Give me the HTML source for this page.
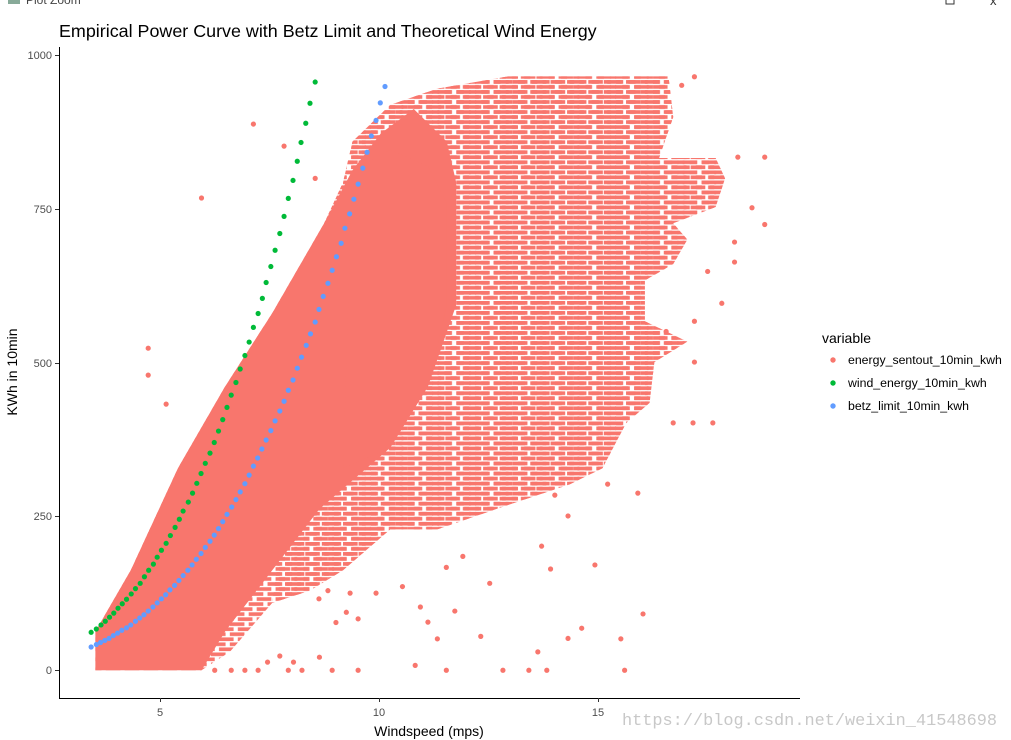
<!DOCTYPE html>
<html><head><meta charset="utf-8"><style>
html,body{margin:0;padding:0;background:#fff;}
svg{display:block;font-family:"Liberation Sans",Arial,sans-serif;}
</style></head><body>
<svg width="1011" height="740" viewBox="0 0 1011 740" xmlns="http://www.w3.org/2000/svg">
<defs>
<pattern id="rows" patternUnits="userSpaceOnUse" width="40" height="24.6">
<rect x="0" y="0" width="31" height="9" fill="#F8766D"/>
<rect x="17" y="12.3" width="23" height="9" fill="#F8766D"/>
<rect x="0" y="12.3" width="8" height="9" fill="#F8766D"/>
</pattern>
<pattern id="rows2" patternUnits="userSpaceOnUse" width="26" height="24.6" x="9" y="0">
<rect x="0" y="0" width="15" height="9" fill="#F8766D"/>
<rect x="13" y="12.3" width="13" height="9" fill="#F8766D"/>
</pattern>
</defs>
<rect width="1011" height="740" fill="#fff"/>
<text x="26" y="4" font-size="12" fill="#444">Plot Zoom</text>
<rect x="8" y="-4" width="12" height="8" fill="#8a9" />
<rect x="946" y="-4" width="8" height="8" fill="none" stroke="#333"/>
<text x="990" y="5" font-size="13" fill="#333">x</text>

<text x="59" y="37" font-size="17.9" fill="#000">Empirical Power Curve with Betz Limit and Theoretical Wind Energy</text>

<g transform="translate(60,60) scale(0.4717,0.4082)">
<polygon fill="url(#rows)" points="75,1495 75,1400 150,1250 250,1000 350,800 450,620 500,520 560,400 600,300 620,200 700,110 800,70 950,40 1290,40 1300,140 1270,240 1390,240 1410,290 1390,360 1300,400 1330,440 1300,500 1240,540 1240,640 1330,690 1260,740 1250,840 1200,890 1150,1000 1080,1040 950,1090 800,1150 700,1150 600,1250 530,1300 450,1330 360,1450 300,1495"/>
<polygon fill="url(#rows2)" points="560,400 600,300 620,200 700,110 800,70 950,40 1290,40 1300,140 1270,240 1390,240 1410,290 1390,360 1300,400 1330,440 1300,500 1240,540 1240,640 1330,690 1260,740 1250,840 1200,890 1150,1000 1080,1040 950,1090 800,1150 700,1150 600,1250 530,1300 450,1330"/>
<polygon fill="#F8766D" points="75,1495 75,1400 150,1250 250,1000 350,800 450,620 500,520 560,400 620,270 680,180 750,120 820,200 840,300 840,600 780,800 700,950 600,1050 550,1100 450,1250 350,1400 300,1495"/>
<polygon fill="#F8766D" points="620,270 700,220 780,260 820,350 820,600 780,800 700,950 600,1000"/>
<g fill="#F8766D">
<ellipse cx="410" cy="157" rx="5.5" ry="6.4"/><ellipse cx="300" cy="338" rx="5.5" ry="6.4"/><ellipse cx="187" cy="706" rx="5.5" ry="6.4"/><ellipse cx="187" cy="772" rx="5.5" ry="6.4"/><ellipse cx="225" cy="843" rx="5.5" ry="6.4"/><ellipse cx="475" cy="211" rx="5.5" ry="6.4"/><ellipse cx="541" cy="290" rx="5.5" ry="6.4"/><ellipse cx="1494" cy="238" rx="5.5" ry="6.4"/><ellipse cx="1494" cy="403" rx="5.5" ry="6.4"/><ellipse cx="1467" cy="362" rx="5.5" ry="6.4"/><ellipse cx="1430" cy="446" rx="5.5" ry="6.4"/><ellipse cx="1430" cy="495" rx="5.5" ry="6.4"/><ellipse cx="1403" cy="596" rx="5.5" ry="6.4"/><ellipse cx="1345" cy="41" rx="5.5" ry="6.4"/><ellipse cx="1318" cy="62" rx="5.5" ry="6.4"/><ellipse cx="1021" cy="1191" rx="5.5" ry="6.4"/><ellipse cx="854" cy="1216" rx="5.5" ry="6.4"/><ellipse cx="819" cy="1243" rx="5.5" ry="6.4"/><ellipse cx="911" cy="1282" rx="5.5" ry="6.4"/><ellipse cx="1134" cy="1237" rx="5.5" ry="6.4"/><ellipse cx="1040" cy="1247" rx="5.5" ry="6.4"/><ellipse cx="1236" cy="1357" rx="5.5" ry="6.4"/><ellipse cx="1077" cy="1417" rx="5.5" ry="6.4"/><ellipse cx="1106" cy="1392" rx="5.5" ry="6.4"/><ellipse cx="1189" cy="1418" rx="5.5" ry="6.4"/><ellipse cx="1013" cy="1450" rx="5.5" ry="6.4"/><ellipse cx="892" cy="1412" rx="5.5" ry="6.4"/><ellipse cx="800" cy="1418" rx="5.5" ry="6.4"/><ellipse cx="780" cy="1377" rx="5.5" ry="6.4"/><ellipse cx="764" cy="1340" rx="5.5" ry="6.4"/><ellipse cx="837" cy="1350" rx="5.5" ry="6.4"/><ellipse cx="753" cy="1483" rx="5.5" ry="6.4"/><ellipse cx="819" cy="1495" rx="5.5" ry="6.4"/><ellipse cx="939" cy="1495" rx="5.5" ry="6.4"/><ellipse cx="994" cy="1495" rx="5.5" ry="6.4"/><ellipse cx="1032" cy="1495" rx="5.5" ry="6.4"/><ellipse cx="1197" cy="1495" rx="5.5" ry="6.4"/><ellipse cx="632" cy="1495" rx="5.5" ry="6.4"/><ellipse cx="577" cy="1495" rx="5.5" ry="6.4"/><ellipse cx="550" cy="1463" rx="5.5" ry="6.4"/><ellipse cx="513" cy="1495" rx="5.5" ry="6.4"/><ellipse cx="484" cy="1495" rx="5.5" ry="6.4"/><ellipse cx="495" cy="1475" rx="5.5" ry="6.4"/><ellipse cx="466" cy="1460" rx="5.5" ry="6.4"/><ellipse cx="440" cy="1475" rx="5.5" ry="6.4"/><ellipse cx="420" cy="1495" rx="5.5" ry="6.4"/><ellipse cx="392" cy="1495" rx="5.5" ry="6.4"/><ellipse cx="363" cy="1495" rx="5.5" ry="6.4"/><ellipse cx="328" cy="1495" rx="5.5" ry="6.4"/><ellipse cx="607" cy="1353" rx="5.5" ry="6.4"/><ellipse cx="632" cy="1369" rx="5.5" ry="6.4"/><ellipse cx="585" cy="1378" rx="5.5" ry="6.4"/><ellipse cx="549" cy="1320" rx="5.5" ry="6.4"/><ellipse cx="568" cy="1300" rx="5.5" ry="6.4"/><ellipse cx="615" cy="1306" rx="5.5" ry="6.4"/><ellipse cx="670" cy="1306" rx="5.5" ry="6.4"/><ellipse cx="726" cy="1290" rx="5.5" ry="6.4"/><ellipse cx="1077" cy="1117" rx="5.5" ry="6.4"/><ellipse cx="1161" cy="1039" rx="5.5" ry="6.4"/><ellipse cx="1225" cy="1061" rx="5.5" ry="6.4"/><ellipse cx="1049" cy="1066" rx="5.5" ry="6.4"/><ellipse cx="1342" cy="889" rx="5.5" ry="6.4"/><ellipse cx="1384" cy="889" rx="5.5" ry="6.4"/><ellipse cx="1300" cy="889" rx="5.5" ry="6.4"/><ellipse cx="1345" cy="740" rx="5.5" ry="6.4"/><ellipse cx="1373" cy="518" rx="5.5" ry="6.4"/><ellipse cx="1345" cy="640" rx="5.5" ry="6.4"/><ellipse cx="1285" cy="665" rx="5.5" ry="6.4"/><ellipse cx="1437" cy="238" rx="5.5" ry="6.4"/>
</g>
<g fill="#00BA38">
<ellipse cx="66" cy="1402" rx="5.5" ry="6.4"/><ellipse cx="77" cy="1394" rx="5.5" ry="6.4"/><ellipse cx="87" cy="1384" rx="5.5" ry="6.4"/><ellipse cx="96" cy="1375" rx="5.5" ry="6.4"/><ellipse cx="105" cy="1365" rx="5.5" ry="6.4"/><ellipse cx="114" cy="1355" rx="5.5" ry="6.4"/><ellipse cx="123" cy="1343" rx="5.5" ry="6.4"/><ellipse cx="132" cy="1332" rx="5.5" ry="6.4"/><ellipse cx="141" cy="1321" rx="5.5" ry="6.4"/><ellipse cx="151" cy="1308" rx="5.5" ry="6.4"/><ellipse cx="160" cy="1295" rx="5.5" ry="6.4"/><ellipse cx="170" cy="1282" rx="5.5" ry="6.4"/><ellipse cx="179" cy="1266" rx="5.5" ry="6.4"/><ellipse cx="188" cy="1250" rx="5.5" ry="6.4"/><ellipse cx="198" cy="1235" rx="5.5" ry="6.4"/><ellipse cx="206" cy="1218" rx="5.5" ry="6.4"/><ellipse cx="215" cy="1201" rx="5.5" ry="6.4"/><ellipse cx="225" cy="1184" rx="5.5" ry="6.4"/><ellipse cx="234" cy="1165" rx="5.5" ry="6.4"/><ellipse cx="244" cy="1145" rx="5.5" ry="6.4"/><ellipse cx="253" cy="1125" rx="5.5" ry="6.4"/><ellipse cx="261" cy="1105" rx="5.5" ry="6.4"/><ellipse cx="272" cy="1083" rx="5.5" ry="6.4"/><ellipse cx="281" cy="1061" rx="5.5" ry="6.4"/><ellipse cx="290" cy="1037" rx="5.5" ry="6.4"/><ellipse cx="299" cy="1013" rx="5.5" ry="6.4"/><ellipse cx="308" cy="988" rx="5.5" ry="6.4"/><ellipse cx="318" cy="963" rx="5.5" ry="6.4"/><ellipse cx="327" cy="937" rx="5.5" ry="6.4"/><ellipse cx="336" cy="909" rx="5.5" ry="6.4"/><ellipse cx="345" cy="881" rx="5.5" ry="6.4"/><ellipse cx="354" cy="851" rx="5.5" ry="6.4"/><ellipse cx="363" cy="821" rx="5.5" ry="6.4"/><ellipse cx="373" cy="790" rx="5.5" ry="6.4"/><ellipse cx="382" cy="757" rx="5.5" ry="6.4"/><ellipse cx="392" cy="724" rx="5.5" ry="6.4"/><ellipse cx="401" cy="691" rx="5.5" ry="6.4"/><ellipse cx="410" cy="655" rx="5.5" ry="6.4"/><ellipse cx="420" cy="621" rx="5.5" ry="6.4"/><ellipse cx="429" cy="584" rx="5.5" ry="6.4"/><ellipse cx="437" cy="545" rx="5.5" ry="6.4"/><ellipse cx="447" cy="506" rx="5.5" ry="6.4"/><ellipse cx="456" cy="466" rx="5.5" ry="6.4"/><ellipse cx="466" cy="425" rx="5.5" ry="6.4"/><ellipse cx="475" cy="383" rx="5.5" ry="6.4"/><ellipse cx="484" cy="339" rx="5.5" ry="6.4"/><ellipse cx="494" cy="295" rx="5.5" ry="6.4"/><ellipse cx="503" cy="248" rx="5.5" ry="6.4"/><ellipse cx="511" cy="202" rx="5.5" ry="6.4"/><ellipse cx="521" cy="155" rx="5.5" ry="6.4"/><ellipse cx="530" cy="106" rx="5.5" ry="6.4"/><ellipse cx="541" cy="54" rx="5.5" ry="6.4"/>
</g>
<g fill="#619CFF">
<ellipse cx="66" cy="1438" rx="5.5" ry="6.4"/><ellipse cx="77" cy="1432" rx="5.5" ry="6.4"/><ellipse cx="86" cy="1427" rx="5.5" ry="6.4"/><ellipse cx="95" cy="1422" rx="5.5" ry="6.4"/><ellipse cx="104" cy="1417" rx="5.5" ry="6.4"/><ellipse cx="113" cy="1410" rx="5.5" ry="6.4"/><ellipse cx="122" cy="1404" rx="5.5" ry="6.4"/><ellipse cx="131" cy="1397" rx="5.5" ry="6.4"/><ellipse cx="141" cy="1391" rx="5.5" ry="6.4"/><ellipse cx="150" cy="1384" rx="5.5" ry="6.4"/><ellipse cx="160" cy="1375" rx="5.5" ry="6.4"/><ellipse cx="169" cy="1367" rx="5.5" ry="6.4"/><ellipse cx="178" cy="1359" rx="5.5" ry="6.4"/><ellipse cx="187" cy="1350" rx="5.5" ry="6.4"/><ellipse cx="197" cy="1340" rx="5.5" ry="6.4"/><ellipse cx="206" cy="1330" rx="5.5" ry="6.4"/><ellipse cx="215" cy="1320" rx="5.5" ry="6.4"/><ellipse cx="224" cy="1310" rx="5.5" ry="6.4"/><ellipse cx="233" cy="1298" rx="5.5" ry="6.4"/><ellipse cx="243" cy="1287" rx="5.5" ry="6.4"/><ellipse cx="252" cy="1275" rx="5.5" ry="6.4"/><ellipse cx="261" cy="1263" rx="5.5" ry="6.4"/><ellipse cx="271" cy="1250" rx="5.5" ry="6.4"/><ellipse cx="280" cy="1237" rx="5.5" ry="6.4"/><ellipse cx="289" cy="1223" rx="5.5" ry="6.4"/><ellipse cx="299" cy="1209" rx="5.5" ry="6.4"/><ellipse cx="308" cy="1194" rx="5.5" ry="6.4"/><ellipse cx="318" cy="1179" rx="5.5" ry="6.4"/><ellipse cx="327" cy="1164" rx="5.5" ry="6.4"/><ellipse cx="336" cy="1148" rx="5.5" ry="6.4"/><ellipse cx="345" cy="1131" rx="5.5" ry="6.4"/><ellipse cx="354" cy="1113" rx="5.5" ry="6.4"/><ellipse cx="364" cy="1095" rx="5.5" ry="6.4"/><ellipse cx="373" cy="1077" rx="5.5" ry="6.4"/><ellipse cx="382" cy="1058" rx="5.5" ry="6.4"/><ellipse cx="392" cy="1038" rx="5.5" ry="6.4"/><ellipse cx="401" cy="1017" rx="5.5" ry="6.4"/><ellipse cx="410" cy="995" rx="5.5" ry="6.4"/><ellipse cx="419" cy="975" rx="5.5" ry="6.4"/><ellipse cx="428" cy="953" rx="5.5" ry="6.4"/><ellipse cx="437" cy="931" rx="5.5" ry="6.4"/><ellipse cx="447" cy="908" rx="5.5" ry="6.4"/><ellipse cx="456" cy="884" rx="5.5" ry="6.4"/><ellipse cx="466" cy="860" rx="5.5" ry="6.4"/><ellipse cx="475" cy="836" rx="5.5" ry="6.4"/><ellipse cx="484" cy="809" rx="5.5" ry="6.4"/><ellipse cx="494" cy="784" rx="5.5" ry="6.4"/><ellipse cx="503" cy="755" rx="5.5" ry="6.4"/><ellipse cx="512" cy="728" rx="5.5" ry="6.4"/><ellipse cx="522" cy="699" rx="5.5" ry="6.4"/><ellipse cx="531" cy="671" rx="5.5" ry="6.4"/><ellipse cx="541" cy="642" rx="5.5" ry="6.4"/><ellipse cx="549" cy="611" rx="5.5" ry="6.4"/><ellipse cx="558" cy="579" rx="5.5" ry="6.4"/><ellipse cx="568" cy="547" rx="5.5" ry="6.4"/><ellipse cx="577" cy="515" rx="5.5" ry="6.4"/><ellipse cx="586" cy="482" rx="5.5" ry="6.4"/><ellipse cx="596" cy="449" rx="5.5" ry="6.4"/><ellipse cx="604" cy="412" rx="5.5" ry="6.4"/><ellipse cx="614" cy="377" rx="5.5" ry="6.4"/><ellipse cx="623" cy="341" rx="5.5" ry="6.4"/><ellipse cx="632" cy="304" rx="5.5" ry="6.4"/><ellipse cx="642" cy="265" rx="5.5" ry="6.4"/><ellipse cx="651" cy="226" rx="5.5" ry="6.4"/><ellipse cx="660" cy="186" rx="5.5" ry="6.4"/><ellipse cx="670" cy="148" rx="5.5" ry="6.4"/><ellipse cx="679" cy="105" rx="5.5" ry="6.4"/><ellipse cx="689" cy="65" rx="5.5" ry="6.4"/>
</g>
</g>

<g stroke="#000" stroke-width="1" fill="none">
<line x1="59.5" y1="47" x2="59.5" y2="698.5"/>
<line x1="59" y1="698.5" x2="800" y2="698.5"/>
</g>
<g stroke="#333" stroke-width="1">
<line x1="55" y1="670.5" x2="59" y2="670.5"/><line x1="55" y1="516.5" x2="59" y2="516.5"/><line x1="55" y1="363.5" x2="59" y2="363.5"/><line x1="55" y1="209.5" x2="59" y2="209.5"/><line x1="55" y1="55.5" x2="59" y2="55.5"/>
<line x1="160.5" y1="698" x2="160.5" y2="702"/><line x1="379.5" y1="698" x2="379.5" y2="702"/><line x1="598.5" y1="698" x2="598.5" y2="702"/>
</g>
<g font-size="11" fill="#4d4d4d" text-anchor="end">
<text x="52" y="674">0</text><text x="52" y="520">250</text><text x="52" y="367">500</text><text x="52" y="213">750</text><text x="52" y="59">1000</text>
</g>
<g font-size="11" fill="#4d4d4d" text-anchor="middle">
<text x="160" y="716">5</text><text x="379" y="716">10</text><text x="598" y="716">15</text>
</g>
<text x="429" y="736" font-size="14" text-anchor="middle" fill="#000">Windspeed (mps)</text>
<text transform="translate(17,372) rotate(-90)" font-size="14" text-anchor="middle" fill="#000">KWh in 10min</text>

<text x="822" y="343" font-size="14" fill="#000">variable</text>
<circle cx="833" cy="360" r="2.7" fill="#F8766D"/>
<circle cx="833" cy="383" r="2.7" fill="#00BA38"/>
<circle cx="833" cy="406" r="2.7" fill="#619CFF"/>
<g font-size="12.3" fill="#000">
<text x="848" y="364">energy_sentout_10min_kwh</text>
<text x="848" y="387">wind_energy_10min_kwh</text>
<text x="848" y="410">betz_limit_10min_kwh</text>
</g>

<text x="622" y="725" font-size="16.9" fill="#c8c8c8" font-family="Liberation Mono, monospace">https://blog.csdn.net/weixin_41548698</text>
</svg>
</body></html>
